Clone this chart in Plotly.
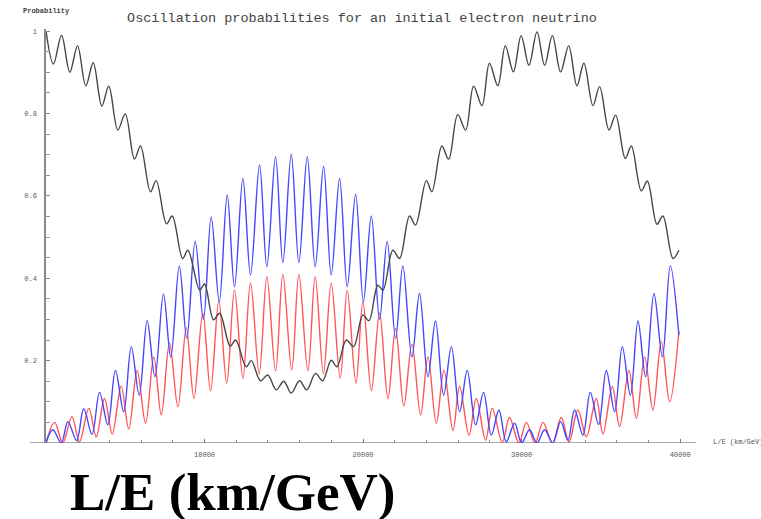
import plotly.graph_objects as go

# ---- data (x in km/GeV, y = probability) ----
black_x = [0, 470, 980, 1500, 1990, 2510, 2980, 3520, 3960, 4530, 5000, 5580, 5960, 6590, 6950, 7600, 7960,
           8620, 8950, 9700, 10000, 10570, 10950, 11620, 11960, 12630, 12950, 13530, 13990, 14520, 15000,
           15470, 15990, 16450, 17000, 17450, 17990, 18350, 18940, 19400, 19990, 20370, 20930, 21250, 21880,
           22300, 22930, 23310, 23990, 24340, 24970, 25400, 25970, 26470, 26970, 27500, 27970, 28500, 28970,
           29480, 29970, 30460, 30970, 31450, 31940, 32460, 32970, 33490, 33930, 34500, 34920, 35510, 35930,
           36540, 36920, 37550, 37930, 38540, 38910, 39550, 39920]
black_y = [1.0, 0.920, 0.990, 0.900, 0.964, 0.867, 0.923, 0.818, 0.866, 0.760, 0.799, 0.689, 0.721, 0.610, 0.637,
           0.532, 0.551, 0.448, 0.468, 0.371, 0.386, 0.299, 0.315, 0.235, 0.250, 0.185, 0.200, 0.151, 0.165,
           0.129, 0.150, 0.121, 0.151, 0.129, 0.169, 0.151, 0.201, 0.185, 0.250, 0.234, 0.311, 0.297, 0.383,
           0.371, 0.468, 0.448, 0.551, 0.529, 0.637, 0.610, 0.721, 0.689, 0.797, 0.760, 0.866, 0.819, 0.922,
           0.867, 0.964, 0.901, 0.989, 0.917, 0.998, 0.917, 0.989, 0.901, 0.964, 0.867, 0.922, 0.819, 0.865,
           0.760, 0.796, 0.691, 0.721, 0.612, 0.636, 0.531, 0.551, 0.448, 0.468]

blue_x = [0, 430, 960, 1380, 1930, 2380, 2900, 3380, 3900, 4380, 4900, 5380, 5880, 6380, 6870, 7410, 7870,
          8410, 8880, 9410, 9930, 10420, 10930, 11430, 11890, 12420, 12900, 13470, 13930, 14480, 14940, 15470,
          15950, 16480, 16980, 17510, 17990, 18520, 19000, 19530, 20020, 20520, 21040, 21520, 22050, 22510,
          23080, 23560, 24090, 24570, 25080, 25570, 26090, 26570, 27100, 27600, 28090, 28570, 29030, 29560,
          30000, 30500, 30970, 31450, 31970, 32460, 32920, 33340, 33870, 34330, 34860, 35340, 35870, 36350,
          36860, 37340, 37820, 38350, 38880, 39380, 39920]
blue_y = [0.0, 0.032, 0.0, 0.052, 0.006, 0.083, 0.021, 0.123, 0.044, 0.176, 0.076, 0.234, 0.116, 0.297, 0.161,
          0.362, 0.208, 0.430, 0.254, 0.490, 0.300, 0.549, 0.343, 0.602, 0.379, 0.642, 0.408, 0.675, 0.428,
          0.695, 0.438, 0.701, 0.438, 0.695, 0.428, 0.672, 0.408, 0.642, 0.379, 0.604, 0.343, 0.551, 0.300,
          0.490, 0.254, 0.430, 0.209, 0.363, 0.161, 0.296, 0.116, 0.234, 0.076, 0.176, 0.044, 0.123, 0.019,
          0.080, 0.003, 0.048, 0.0, 0.032, 0.0, 0.032, 0.0, 0.052, 0.007, 0.080, 0.019, 0.123, 0.045, 0.176,
          0.076, 0.234, 0.116, 0.296, 0.161, 0.363, 0.209, 0.430, 0.262]

red_x = [0, 540, 1060, 1630, 2110, 2700, 3170, 3690, 4180, 4740, 5220, 5750, 6280, 6800, 7270, 7790, 8320,
         8850, 9330, 9890, 10380, 10900, 11400, 11890, 12420, 12900, 13450, 13930, 14480, 14940, 15500, 15950,
         16520, 16980, 17500, 17990, 18560, 19000, 19550, 19990, 20520, 21040, 21570, 22050, 22570, 23080,
         23630, 24090, 24620, 25100, 25670, 26090, 26680, 27140, 27730, 28150, 28780, 29240, 29830, 30300,
         30850, 31350, 31940, 32500, 32990, 33550, 34080, 34710, 35130, 35720, 36180, 36770, 37240, 37760,
         38280, 38810, 39340, 39920]
red_y = [0.0, 0.050, 0.0, 0.064, 0.003, 0.084, 0.015, 0.108, 0.022, 0.138, 0.034, 0.176, 0.048, 0.209, 0.068,
         0.243, 0.088, 0.280, 0.108, 0.315, 0.127, 0.345, 0.145, 0.371, 0.157, 0.389, 0.168, 0.404, 0.175,
         0.409, 0.177, 0.409, 0.175, 0.404, 0.168, 0.388, 0.157, 0.371, 0.145, 0.343, 0.127, 0.315, 0.108,
         0.278, 0.090, 0.240, 0.068, 0.209, 0.048, 0.177, 0.030, 0.138, 0.019, 0.108, 0.007, 0.084, 0.001,
         0.062, 0.0, 0.050, 0.0, 0.050, 0.0, 0.062, 0.003, 0.080, 0.015, 0.108, 0.022, 0.137, 0.040, 0.176,
         0.060, 0.209, 0.080, 0.246, 0.100, 0.272]

x_tick_vals = [10000, 20000, 30000, 40000]
x_tick_text = ["10000", "20000", "30000", "40000"]
y_tick_vals = [0.2, 0.4, 0.6, 0.8, 1.0]
y_tick_text = ["0.2", "0.4", "0.6", "0.8", "1"]

title_text = "Oscillation probabilities for an initial electron neutrino"
y_label = "Probability"
x_label = "L/E (km/GeV)"

# ---- figure ----
W, H = 761, 519
ML, MR, MT, MB = 46, 65, 29, 76
PW, PH = W - ML - MR, H - MT - MB

fig = go.Figure()
line_w = 1.4
fig.add_trace(go.Scatter(x=red_x, y=red_y, mode="lines", line=dict(color="rgb(255,85,85)", width=line_w, shape="spline", smoothing=1.0), hoverinfo="skip"))
fig.add_trace(go.Scatter(x=blue_x, y=blue_y, mode="lines", line=dict(color="rgb(70,70,255)", width=line_w, shape="spline", smoothing=1.0), hoverinfo="skip"))
fig.add_trace(go.Scatter(x=black_x, y=black_y, mode="lines", line=dict(color="rgb(70,70,70)", width=line_w, shape="spline", smoothing=1.0), hoverinfo="skip"))

tick_font = dict(family="Liberation Mono", size=7, color="#555")

fig.update_layout(
    width=W, height=H,
    margin=dict(l=ML, r=MR, t=MT, b=MB, pad=0),
    paper_bgcolor="white", plot_bgcolor="white",
    showlegend=False,
    title=dict(text=title_text, x=362 / W, xanchor="center", y=1 - 17 / H, yanchor="middle",
               font=dict(family="Liberation Mono", size=13.5, color="#444")),
    xaxis=dict(range=[0, 41000], showgrid=False, zeroline=False, showline=False,
               tickvals=x_tick_vals, ticktext=x_tick_text, ticks="inside", ticklen=4, tickwidth=1,
               tickcolor="#777", tickfont=tick_font, ticklabelstandoff=6,
               minor=dict(dtick=2000, ticks="inside", ticklen=3, tickcolor="#888", showgrid=False)),
    yaxis=dict(range=[0, 1.005], showgrid=False, zeroline=False, showline=True, linecolor="#888", linewidth=1.5,
               tickvals=y_tick_vals, ticktext=y_tick_text, ticks="inside", ticklen=4, tickwidth=1,
               tickcolor="#888", tickfont=tick_font, ticklabelstandoff=6,
               minor=dict(dtick=0.05, ticks="inside", ticklen=4, tickcolor="#999", showgrid=False)),
)

# x-axis base line (extends a little left of the y axis)
fig.add_shape(type="line", xref="paper", yref="y", x0=-16 / PW, x1=1.0, y0=0, y1=0,
              line=dict(color="#aaa", width=2), layer="below")

fig.add_annotation(text="<b>" + y_label + "</b>", xref="paper", yref="paper",
                   x=(21 - ML) / PW, y=1 + (MT - 10.5) / PH, xanchor="left", yanchor="middle",
                   showarrow=False, font=dict(family="Liberation Mono", size=7, color="#444"))
fig.add_annotation(text=x_label, xref="paper", yref="paper",
                   x=(711 - ML) / PW, y=(443 - 442) / PH, xanchor="left", yanchor="middle",
                   showarrow=False, font=dict(family="Liberation Mono", size=7, color="#555"))
fig.add_annotation(text="<b>" + x_label + "</b>", xref="paper", yref="paper",
                   x=(232.5 - ML) / PW, y=(443 - 492) / PH, xanchor="center", yanchor="middle",
                   showarrow=False, font=dict(family="Liberation Serif", size=53, color="black"))

fig.write_html("out.html")
